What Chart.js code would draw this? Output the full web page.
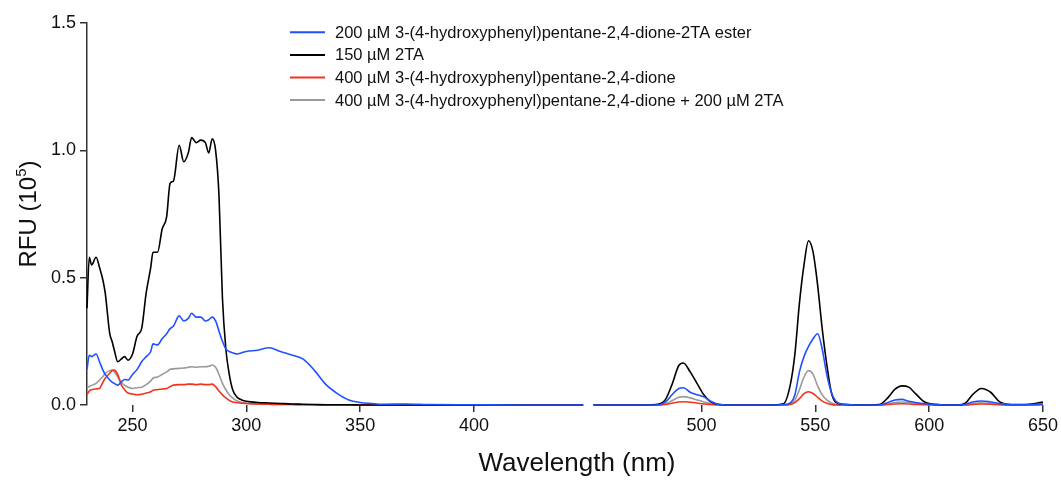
<!DOCTYPE html>
<html>
<head>
<meta charset="utf-8">
<script src="https://cdn.jsdelivr.net/npm/chart.js@4"></script>
<style>
html,body{margin:0;padding:0;background:#fff;}
#wrap{width:1061px;height:480px;position:relative;}
</style>
</head>
<body>
<div id="wrap"><canvas id="c" width="1061" height="480"></canvas></div>
<script>
// ---- data ----
const wavelength = [230,231,232,234,235.5,237,238,240,241,242,243.5,245,246.5,248,250,252,254,256,258,259,261,263,265,266.5,268,270.5,272.5,274.5,276,278,280,282,283.5,285,286.5,288,289.5,291,292.5,294,296,298,300,305,310,315,320,325,330,335,340,345,350,355,360,370,380,400,420,448,
  450,
  452.5,470,480,484,487,490,492,495,498,501,504,508,515,530,536,539,541,543,545,547,549,551,553,555,557,559,562,570,578,582,585,588,591,594,598,605,612,616,619,623,627,631,636,642,646,650];

const esterRFU = [0.14,0.195,0.19,0.20,0.17,0.137,0.12,0.098,0.09,0.085,0.078,0.09,0.10,0.098,0.12,0.14,0.17,0.19,0.21,0.24,0.236,0.26,0.28,0.30,0.31,0.35,0.33,0.34,0.36,0.345,0.345,0.33,0.335,0.345,0.33,0.29,0.25,0.22,0.21,0.205,0.20,0.205,0.21,0.215,0.225,0.21,0.196,0.18,0.135,0.08,0.045,0.02,0.01,0.006,0.003,0.004,0.002,0.001,0,0,
  null,
  0,0,0,0.01,0.04,0.065,0.068,0.05,0.04,0.032,0.015,0.002,0,0,0.002,0.008,0.04,0.13,0.19,0.23,0.26,0.28,0.22,0.12,0.05,0.015,0.003,0,0,0.01,0.02,0.022,0.015,0.01,0.005,0.001,0,0.003,0.012,0.016,0.012,0.006,0.001,0.001,0.002,0.004];

const twoTaRFU = [0.38,0.58,0.55,0.58,0.54,0.49,0.44,0.28,0.25,0.215,0.17,0.18,0.19,0.176,0.20,0.27,0.30,0.44,0.54,0.60,0.60,0.69,0.74,0.87,0.88,1.02,0.955,0.99,1.05,1.03,1.04,1.03,0.99,1.045,1.00,0.82,0.42,0.22,0.12,0.06,0.03,0.02,0.015,0.01,0.008,0.006,0.004,0.003,0.002,0.001,0.001,0.001,0,0,0,0,0,0,0,0,
  null,
  0,0,0.002,0.02,0.08,0.155,0.165,0.13,0.085,0.04,0.012,0.002,0,0,0.005,0.08,0.2,0.4,0.55,0.645,0.6,0.47,0.3,0.16,0.05,0.01,0.003,0,0.002,0.03,0.062,0.075,0.07,0.045,0.012,0.001,0,0.008,0.04,0.065,0.05,0.012,0.002,0.002,0.005,0.012];

const dioneRFU = [0.04,0.055,0.06,0.063,0.065,0.09,0.105,0.125,0.135,0.137,0.12,0.08,0.06,0.047,0.043,0.04,0.042,0.047,0.052,0.058,0.06,0.063,0.065,0.072,0.078,0.08,0.08,0.082,0.082,0.08,0.082,0.08,0.08,0.082,0.072,0.055,0.04,0.028,0.018,0.012,0.009,0.007,0.006,0.004,0.003,0.002,0.002,0.001,0.001,0,0,0,0,0,0,0,0,0,0,0,
  null,
  0,0,0,0.002,0.007,0.012,0.013,0.011,0.008,0.004,0.002,0,0,0,0,0.002,0.01,0.025,0.045,0.052,0.045,0.03,0.015,0.007,0.002,0,0,0,0,0.002,0.004,0.005,0.004,0.002,0.001,0,0,0,0.002,0.004,0.003,0.001,0,0,0,0.001];

const mixRFU = [0.07,0.072,0.077,0.085,0.098,0.112,0.124,0.135,0.137,0.13,0.11,0.09,0.077,0.07,0.065,0.068,0.07,0.08,0.095,0.105,0.11,0.12,0.13,0.14,0.142,0.144,0.145,0.148,0.15,0.148,0.15,0.15,0.152,0.157,0.148,0.12,0.085,0.06,0.04,0.027,0.016,0.01,0.007,0.004,0.003,0.002,0.002,0.001,0.001,0,0,0,0,0,0,0,0,0,0,0,
  null,
  0,0,0,0.004,0.017,0.03,0.033,0.028,0.02,0.012,0.005,0.001,0,0,0,0.005,0.02,0.06,0.11,0.135,0.12,0.075,0.04,0.02,0.008,0.002,0,0,0,0.004,0.01,0.012,0.01,0.006,0.002,0,0,0,0.006,0.009,0.006,0.002,0,0,0.001,0.003];

const seriesLabels = [
  '200 µM 3-(4-hydroxyphenyl)pentane-2,4-dione-2TA ester',
  '150 µM 2TA',
  '400 µM 3-(4-hydroxyphenyl)pentane-2,4-dione',
  '400 µM 3-(4-hydroxyphenyl)pentane-2,4-dione + 200 µM 2TA'
];
const xTickValues = [250,300,350,400,500,550,600,650];
const yTickValues = [0,0.5,1.0,1.5];

// ---- chart ----
const colors = ['#2150ff','#000000','#f2331f','#9a9a9a'];
const seriesValues = [esterRFU, twoTaRFU, dioneRFU, mixRFU];
const FONT = '"Liberation Sans", Arial, sans-serif';

const datasets = seriesValues.map((vals, i) => ({
  label: seriesLabels[i],
  data: wavelength.map((w, j) => ({x: w, y: vals[j]})),
  borderColor: colors[i],
  borderWidth: 1.6,
  pointRadius: 0,
  fill: false,
  spanGaps: false,
  clip: 4,
  cubicInterpolationMode: 'monotone'
}));

const overlay = {
  id: 'overlay',
  afterDraw(chart) {
    const ctx = chart.ctx;
    ctx.save();
    // legend
    ctx.font = '16.5px ' + FONT;
    ctx.textBaseline = 'middle';
    ctx.textAlign = 'left';
    chart.data.datasets.forEach((ds, i) => {
      const y = 32.3 + i * 22.6;
      ctx.strokeStyle = ds.borderColor;
      ctx.lineWidth = 2;
      ctx.beginPath();
      ctx.moveTo(290, y);
      ctx.lineTo(325, y);
      ctx.stroke();
      ctx.fillStyle = '#111';
      ctx.fillText(ds.label, 335, y + 1);
    });
    // x title
    ctx.font = '26px ' + FONT;
    ctx.textAlign = 'center';
    ctx.textBaseline = 'middle';
    ctx.fillStyle = '#111';
    ctx.fillText('Wavelength (nm)', 577, 464);
    // y title with superscript
    ctx.translate(27, 214);
    ctx.rotate(-Math.PI / 2);
    const p1 = 'RFU (10', p2 = '5', p3 = ')';
    ctx.font = '24px ' + FONT;
    const w1 = ctx.measureText(p1).width, w3 = ctx.measureText(p3).width;
    ctx.font = '15px ' + FONT;
    const w2 = ctx.measureText(p2).width;
    const total = w1 + w2 + w3;
    let x = -total / 2;
    ctx.textAlign = 'left';
    ctx.textBaseline = 'alphabetic';
    ctx.font = '24px ' + FONT;
    ctx.fillText(p1, x, 9); x += w1;
    ctx.font = '15px ' + FONT;
    ctx.fillText(p2, x, -1); x += w2;
    ctx.font = '24px ' + FONT;
    ctx.fillText(p3, x, 9);
    ctx.restore();
  }
};

new Chart(document.getElementById('c'), {
  type: 'line',
  data: { datasets },
  options: {
    responsive: false,
    animation: false,
    events: [],
    layout: { padding: { top: 23, right: 15, left: 0, bottom: 0 } },
    plugins: { legend: { display: false }, tooltip: { enabled: false } },
    scales: {
      x: {
        type: 'linear',
        min: 230, max: 650,
        afterBuildTicks: (s) => { s.ticks = xTickValues.map(v => ({value: v})); },
        afterFit: (s) => { s.height = 75; },
        border: { display: false },
        grid: { display: true, drawOnChartArea: false, drawTicks: true, tickLength: 7, color: '#333', lineWidth: 1.5 },
        ticks: { color: '#111', font: { family: FONT, size: 18 }, padding: 3, maxRotation: 0, autoSkip: false, callback: v => String(v) }
      },
      y: {
        min: 0, max: 1.5,
        afterBuildTicks: (s) => { s.ticks = yTickValues.map(v => ({value: v})); },
        afterFit: (s) => { s.width = 87; },
        border: { display: true, color: '#333', width: 1.5 },
        grid: { display: true, drawOnChartArea: false, drawTicks: true, tickLength: 7, color: '#333', lineWidth: 1.5 },
        ticks: { color: '#111', font: { family: FONT, size: 18 }, padding: 4, callback: v => Number(v).toFixed(1) }
      }
    }
  },
  plugins: [overlay]
});
</script>
</body>
</html>
